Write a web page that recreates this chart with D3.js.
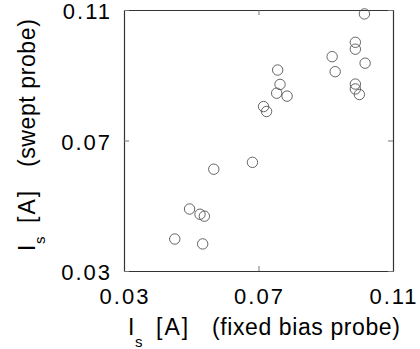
<!DOCTYPE html>
<html>
<head>
<meta charset="utf-8">
<script src="https://cdn.jsdelivr.net/npm/d3@7"></script>
<style>
  body { margin: 0; background: #fff; }
  svg { display: block; font-family: "Liberation Sans", Arial, sans-serif; }
</style>
</head>
<body>
<div id="chart"></div>
<script>
// fixed bias probe current (x) vs swept probe current (y), in A
var fixedBias = [0.1015, 0.0988, 0.0988, 0.0919, 0.1017, 0.0928, 0.0757, 0.0764, 0.0754, 0.0785,
  0.0988, 0.0988, 0.1000, 0.0715, 0.0724, 0.0682, 0.0567, 0.0495, 0.0526, 0.0539, 0.0451, 0.0534];
var swept = [0.1088, 0.1001, 0.0980, 0.0957, 0.0937, 0.0911, 0.0916, 0.0872, 0.0845, 0.0836,
  0.0873, 0.0858, 0.0841, 0.0804, 0.0789, 0.0633, 0.0612, 0.0490, 0.0474, 0.0468, 0.0398, 0.0383];
var tickValues = [0.03, 0.07, 0.11];
var xTitle = ["I", "s", "[A]", "(fixed bias probe)"];
var yTitle = ["I", "s", "[A]", "(swept probe)"];

(function (selector) {
    var svg = d3.select(selector).append("svg")
        .attr("width", 420)
        .attr("height", 349);

    var margin = { top: 10, right: 27, bottom: 78, left: 124 },
        width = 420 - margin.left - margin.right,
        height = 349 - margin.top - margin.bottom,
        g = svg.append("g").attr("transform", "translate(" + margin.left + "," + margin.top + ")");

    var x = d3.scaleLinear().domain([0.03, 0.11]).range([0, width]);
    var y = d3.scaleLinear().domain([0.03, 0.11]).range([height, 0]);

    var fmt = d3.format(".2f");

    // inner ticks on all four sides, no labels
    function frameAxis(axis, tr) {
        var a = g.append("g").attr("transform", tr)
            .call(axis.tickValues(tickValues).tickSizeInner(-5).tickSizeOuter(0).tickFormat(""));
        a.select(".domain").attr("stroke", "#333").attr("stroke-width", 1.2);
        a.selectAll(".tick line").attr("stroke", "#777");
        return a;
    }
    frameAxis(d3.axisBottom(x), "translate(0," + height + ")");
    frameAxis(d3.axisTop(x), "translate(0,0)");
    frameAxis(d3.axisLeft(y), "translate(0,0)");
    frameAxis(d3.axisRight(y), "translate(" + width + ",0)");

    // tick labels
    g.append("g").selectAll("text")
        .data(tickValues)
        .enter().append("text")
        .attr("x", function (d) { return x(d) + 1; })
        .attr("y", height + 33)
        .attr("text-anchor", "middle")
        .attr("font-size", 22)
        .attr("letter-spacing", 2)
        .text(fmt);

    g.append("g").selectAll("text")
        .data(tickValues)
        .enter().append("text")
        .attr("x", -12)
        .attr("y", function (d) { return y(d); })
        .attr("dy", "0.42em")
        .attr("text-anchor", "end")
        .attr("font-size", 22)
        .attr("letter-spacing", 2)
        .text(fmt);

    // data points
    g.append("g").selectAll("circle")
        .data(fixedBias)
        .enter().append("circle")
        .attr("cx", function (d) { return x(d); })
        .attr("cy", function (d, i) { return y(swept[i]); })
        .attr("r", 5.2)
        .attr("fill", "none")
        .attr("stroke", "#555")
        .attr("stroke-width", 0.9);

    // axis titles: symbol, subscript, unit, description
    function title(parts, tr, offs) {
        var t = svg.append("g").attr("transform", tr);
        t.selectAll("text")
            .data(parts)
            .enter().append("text")
            .attr("x", function (d, i) { return offs[i][0]; })
            .attr("y", function (d, i) { return offs[i][1]; })
            .attr("font-size", function (d, i) { return i === 1 ? 15 : 23; })
            .attr("letter-spacing", function (d, i) { return i === 2 ? 2 : 0.6; })
            .text(function (d) { return d; });
    }
    title(xTitle, "translate(128,335)", [[0, 0], [7, 12], [28, 0], [84, 0]]);
    title(yTitle, "translate(35,251) rotate(-90)", [[0, 0], [7, 10], [28, 0], [84, 0]]);
})("#chart");
</script>
</body>
</html>
